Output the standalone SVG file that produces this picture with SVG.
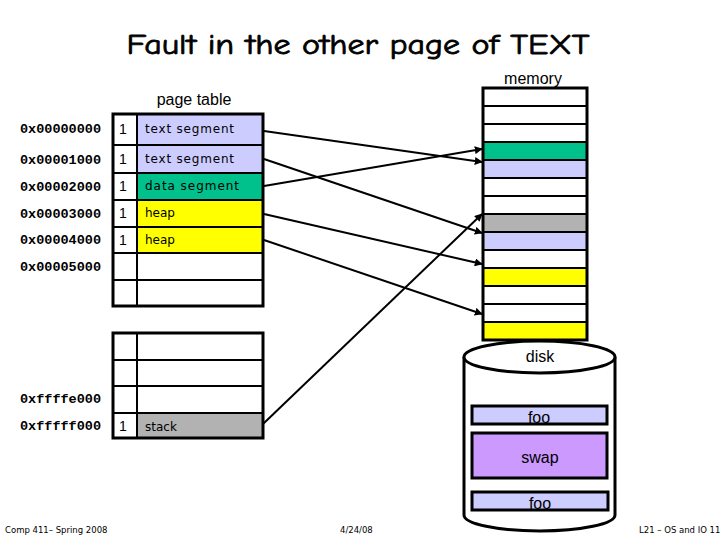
<svg xmlns="http://www.w3.org/2000/svg" width="720" height="540" viewBox="0 0 720 540">
<style>
.title{font-family:"Comic Neue","DejaVu Sans",sans-serif;font-size:29px;fill:#000;stroke:#000;stroke-width:0.8}
.lbl{font-family:"Liberation Sans",Arial,sans-serif;font-size:16px;fill:#000}
.addr{font-family:"Liberation Mono","DejaVu Sans Mono",monospace;font-size:13.5px;font-weight:bold;fill:#000}
.one{font-family:"Liberation Sans",Arial,sans-serif;font-size:14px;fill:#000}
.seg{font-family:"DejaVu Sans",sans-serif;font-size:12px;fill:#000}
.foot{font-family:"DejaVu Sans",sans-serif;font-size:8.5px;fill:#000}
.box{stroke:#000;stroke-width:3}
.cell{stroke:#000;stroke-width:2}
.conn{stroke:#000;stroke-width:2;fill:none;marker-end:url(#ah)}
.lav{fill:#CCCCFF}.grn{fill:#00C08C}.yel{fill:#FFFF00}.gry{fill:#B2B2B2}.wht{fill:#FFFFFF}.pur{fill:#CC99FF}
</style>
<defs>
<marker id="ah" viewBox="0 0 10 10" refX="9" refY="5" markerWidth="4" markerHeight="4" orient="auto" markerUnits="strokeWidth">
<path d="M0,0 L10,5 L0,10 z" fill="#000"/>
</marker>
</defs>
<rect width="720" height="540" fill="#fff"/>
<text class="title" x="358" y="54" text-anchor="middle" textLength="463" lengthAdjust="spacingAndGlyphs">Fault in the other page of TEXT</text>

<g id="page-table">
<text class="lbl" x="194" y="105" text-anchor="middle">page table</text>
<rect class="lav" x="137" y="114" width="126" height="31"/>
<rect class="lav" x="137" y="145" width="126" height="28"/>
<rect class="grn" x="137" y="173" width="126" height="27"/>
<rect class="yel" x="137" y="200" width="126" height="27"/>
<rect class="yel" x="137" y="227" width="126" height="26"/>
<g class="cell">
<line x1="113" y1="145" x2="263" y2="145"/>
<line x1="113" y1="173" x2="263" y2="173"/>
<line x1="113" y1="200" x2="263" y2="200"/>
<line x1="113" y1="227" x2="263" y2="227"/>
<line x1="113" y1="253" x2="263" y2="253"/>
<line x1="113" y1="280" x2="263" y2="280"/>
<line x1="137" y1="114" x2="137" y2="306"/>
</g>
<rect x="113" y="114" width="150" height="192" fill="none" class="box"/>
<text class="one" x="119" y="134">1</text>
<text class="one" x="119" y="164">1</text>
<text class="one" x="119" y="191">1</text>
<text class="one" x="119" y="218">1</text>
<text class="one" x="119" y="245">1</text>
<text class="seg" x="145" y="133" textLength="89">text segment</text>
<text class="seg" x="145" y="163" textLength="89">text segment</text>
<text class="seg" x="145" y="190" textLength="94">data segment</text>
<text class="seg" x="145" y="217">heap</text>
<text class="seg" x="145" y="244">heap</text>
</g>

<g id="page-table-high">
<rect class="gry" x="137" y="413" width="126" height="25"/>
<g class="cell">
<line x1="113" y1="360" x2="263" y2="360"/>
<line x1="113" y1="386" x2="263" y2="386"/>
<line x1="113" y1="413" x2="263" y2="413"/>
<line x1="137" y1="333" x2="137" y2="438"/>
</g>
<rect x="113" y="333" width="150" height="105" fill="none" class="box"/>
<text class="one" x="119" y="431">1</text>
<text class="seg" x="145" y="431">stack</text>
</g>

<g id="addresses">
<text class="addr" x="20" y="133">0x00000000</text>
<text class="addr" x="20" y="164">0x00001000</text>
<text class="addr" x="20" y="191">0x00002000</text>
<text class="addr" x="20" y="218">0x00003000</text>
<text class="addr" x="20" y="244">0x00004000</text>
<text class="addr" x="20" y="271">0x00005000</text>
<text class="addr" x="20" y="403">0xffffe000</text>
<text class="addr" x="20" y="430">0xfffff000</text>
</g>

<g id="memory">
<text class="lbl" x="533" y="84" text-anchor="middle">memory</text>
<rect class="grn" x="483" y="142" width="104" height="18"/>
<rect class="lav" x="483" y="160" width="104" height="18"/>
<rect class="gry" x="483" y="214" width="104" height="18"/>
<rect class="lav" x="483" y="232" width="104" height="18"/>
<rect class="yel" x="483" y="268" width="104" height="18"/>
<rect class="yel" x="483" y="322" width="104" height="18"/>
<g class="cell">
<line x1="483" y1="106" x2="587" y2="106"/>
<line x1="483" y1="124" x2="587" y2="124"/>
<line x1="483" y1="142" x2="587" y2="142"/>
<line x1="483" y1="160" x2="587" y2="160"/>
<line x1="483" y1="178" x2="587" y2="178"/>
<line x1="483" y1="196" x2="587" y2="196"/>
<line x1="483" y1="214" x2="587" y2="214"/>
<line x1="483" y1="232" x2="587" y2="232"/>
<line x1="483" y1="250" x2="587" y2="250"/>
<line x1="483" y1="268" x2="587" y2="268"/>
<line x1="483" y1="286" x2="587" y2="286"/>
<line x1="483" y1="304" x2="587" y2="304"/>
<line x1="483" y1="322" x2="587" y2="322"/>
</g>
<rect x="483" y="88" width="104" height="252" fill="none" class="box"/>
</g>

<g id="disk">
<path d="M464,357 L464,515 A75.5,16 0 0 0 615,515 L615,357" fill="#fff" stroke="#000" stroke-width="3"/>
<ellipse cx="539.5" cy="357" rx="75.5" ry="16" fill="#fff" stroke="#000" stroke-width="3"/>
<text class="lbl" x="540" y="362" text-anchor="middle">disk</text>
<rect class="lav box" x="472" y="406" width="135" height="18"/>
<text class="lbl" x="539" y="423" text-anchor="middle">foo</text>
<rect class="pur box" x="472" y="433" width="135" height="45"/>
<text class="lbl" x="540" y="463" text-anchor="middle">swap</text>
<rect class="lav box" x="472" y="492" width="136" height="18"/>
<text class="lbl" x="540" y="509" text-anchor="middle">foo</text>
</g>

<g id="connectors">
<line class="conn" x1="264" y1="131" x2="482" y2="162"/>
<line class="conn" x1="264" y1="159" x2="482" y2="233"/>
<line class="conn" x1="264" y1="186" x2="482" y2="149"/>
<line class="conn" x1="264" y1="214" x2="482" y2="264"/>
<line class="conn" x1="264" y1="240" x2="482" y2="314"/>
<line class="conn" x1="263" y1="424" x2="482" y2="214"/>
</g>

<g id="footer">
<text class="foot" x="5" y="533">Comp 411– Spring 2008</text>
<text class="foot" x="340" y="533">4/24/08</text>
<text class="foot" x="639" y="533">L21 – OS and IO 11</text>
</g>
</svg>
